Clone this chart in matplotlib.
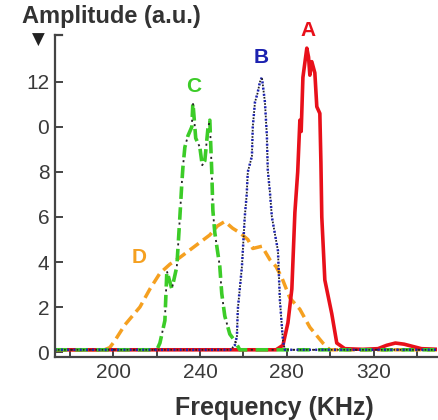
import matplotlib
matplotlib.use("Agg")
import matplotlib.pyplot as plt

plt.rcParams['font.family'] = ['Liberation Sans', 'DejaVu Sans']
plt.rcParams['lines.scale_dashes'] = False

# curve A (red, solid)
a_freq = [173, 275, 278.2, 280.5, 282.3, 283.7, 285, 286, 286.6, 287.4, 288.5, 289.2,
          290, 290.6, 291.5, 292.9, 293.8, 295.2, 295.7, 296.1, 297.5, 300.7, 303,
          306.7, 315, 322, 326, 330, 334, 338, 342, 350]
a_amp = [0.1, 0.1, 0.3, 1.3, 2.8, 6.2, 8.0, 10.3, 9.8, 12.2, 13.0, 13.5,
         13.1, 12.3, 12.9, 12.4, 10.9, 10.6, 8.4, 6.0, 3.2, 1.7, 0.4,
         0.15, 0.12, 0.15, 0.3, 0.4, 0.35, 0.25, 0.15, 0.12]

# curve B (blue, dotted)
b_freq = [173, 254, 256, 257, 257.4, 259.3, 260.6, 261.5, 262, 263.9, 264.3, 265.3,
          266.5, 267.6, 268.5, 269.9, 270.8, 271.2, 272.2, 273.1, 275.9, 276.8,
          278.2, 279.1, 350]
b_amp = [0.1, 0.1, 0.3, 0.7, 1.9, 3.8, 6.0, 7.0, 8.0, 8.7, 10.0, 11.1,
         11.5, 12.0, 12.2, 11.1, 9.6, 8.1, 7.1, 6.0, 4.5, 2.3,
         0.5, 0.1, 0.1]

# curve C (green, dash-dot)
c_freq = [173, 219, 220.1, 221.5, 223.8, 224.7, 227, 229.3, 230.7, 231.6, 232.1, 233,
          234.4, 236.2, 236.7, 238, 239.9, 241, 242.2, 243.6, 244.5, 245.4, 245.9,
          246.8, 249.1, 250, 251.4, 253.7, 256, 258.3, 350]
c_amp = [0.1, 0.1, 0.1, 0.4, 1.4, 3.6, 2.8, 3.8, 6.0, 7.5, 8.2, 9.1,
         9.6, 10.0, 11.1, 9.5, 9.1, 8.3, 8.5, 9.9, 10.3, 8.0, 6.3,
         5.3, 3.8, 2.6, 1.6, 0.8, 0.5, 0.1, 0.1]

# curve D (orange, dashed)
d_freq = [173, 196, 198.4, 200.7, 205.3, 212.3, 216.9, 221.5, 226.1, 230.7, 237.6,
          244.5, 248, 251.4, 255, 258.3, 262, 264.3, 268.5, 272.2, 275, 277.7,
          281.4, 286, 290.6, 296.6, 299.8, 350]
d_amp = [0.1, 0.1, 0.2, 0.5, 1.2, 2.0, 2.8, 3.5, 3.9, 4.2, 4.7,
         5.2, 5.6, 5.8, 5.5, 5.3, 5.0, 4.6, 4.7, 4.1, 3.8, 3.3,
         2.4, 1.9, 1.1, 0.4, 0.1, 0.1]

labels = ["A", "B", "C", "D"]
label_pos = [(289.7, 14.3), (268.4, 13.1), (237.1, 11.8), (212.1, 4.2)]
colors = ["#e8101a", "#1c22b0", "#3ccc28", "#f5a020"]

ytick_vals = [0, 2, 4, 6, 8, 10, 12]
ytick_text = ["0", "2", "4", "6", "8", "0", "12"]
xtick_vals = [180, 200, 220, 240, 260, 280, 300, 320, 340]
xtick_text = ["", "200", "", "240", "", "280", "", "320", ""]

fig = plt.figure(figsize=(4.39, 4.20), dpi=100)
ax = fig.add_axes([0.125, 0.15, 0.87, 0.767])

ax.plot(d_freq, d_amp, color=colors[3], lw=2.5, ls=(0, (8, 4)))
ax.plot(a_freq, a_amp, color=colors[0], lw=2.6)
ax.plot(c_freq, c_amp, color=colors[2], lw=2.6, ls=(0, (9, 6)))
ax.plot(c_freq, c_amp, color="#222222", lw=1.3, ls=(3.5, (1.5, 13.5)))
ax.plot(b_freq, b_amp, color=colors[1], lw=1.8, ls=(0, (1.5, 3)))
ax.plot(b_freq, b_amp, color="#222222", lw=1.3, ls=(2.2, (1.2, 3.3)))

for lab, (x, y), c in zip(labels, label_pos, colors):
    ax.text(x, y, lab, color=c, fontsize=15, fontweight="bold", ha="center", va="center")

ax.set_xlim(173.1, 349.1)
ax.set_ylim(-0.22, 14.09)
ax.set_xticks(xtick_vals)
ax.set_xticklabels(xtick_text)
ax.set_yticks(ytick_vals)
ax.set_yticklabels(ytick_text)

for s in ["top", "right"]:
    ax.spines[s].set_visible(False)
for s in ["left", "bottom"]:
    ax.spines[s].set_color("#444444")
    ax.spines[s].set_linewidth(1.6)
ax.tick_params(direction="in", length=6, width=1.4, color="#444444",
               labelsize=15, labelcolor="#3a3a3a", pad=4)
# small bracket at the top of the y axis
ax.plot([0, 0.018], [1, 1], transform=ax.transAxes, color="#444444", lw=1.6, clip_on=False)

fig.text(0.05, 0.96, "Amplitude (a.u.)", fontsize=17, fontweight="bold", color="#333333",
         ha="left", va="center")
fig.text(0.087, 0.905, "\u25bc", fontsize=12, color="#222222", ha="center", va="center",
         family=["DejaVu Sans"])
fig.text(0.624, 0.028, "Frequency (KHz)", fontsize=18, fontweight="bold", color="#333333",
         ha="center", va="center")

fig.savefig("out.png", dpi=100)
